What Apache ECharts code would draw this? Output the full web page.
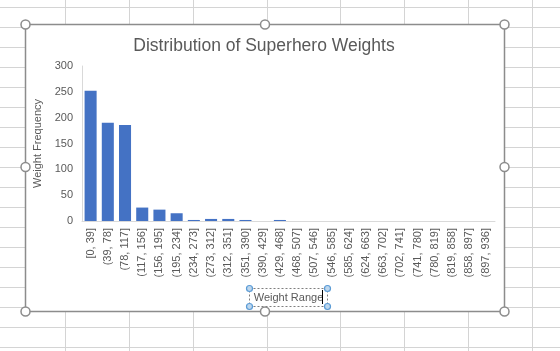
<!DOCTYPE html>
<html>
<head>
<meta charset="utf-8">
<script src="https://cdn.jsdelivr.net/npm/echarts@6/dist/echarts.min.js"></script>
<style>
  html, body { margin: 0; padding: 0; background: #fff; }
  #main { width: 560px; height: 351px; }
</style>
</head>
<body>
<div id="main"></div>
<script>
// weight bins of 39 lbs
var categories = ['[0, 39]', '(39, 78]', '(78, 117]', '(117, 156]', '(156, 195]', '(195, 234]',
  '(234, 273]', '(273, 312]', '(312, 351]', '(351, 390]', '(390, 429]', '(429, 468]',
  '(468, 507]', '(507, 546]', '(546, 585]', '(585, 624]', '(624, 663]', '(663, 702]',
  '(702, 741]', '(741, 780]', '(780, 819]', '(819, 858]', '(858, 897]', '(897, 936]'];
var frequency = [252, 190, 186, 26, 22, 15, 2, 4, 4, 2, 0, 2, 0, 0, 0, 0, 0, 0, 0, 0, 0, 0, 0, 0];
var yTicks = [0, 50, 100, 150, 200, 250, 300];

var textColor = '#595959';
var font = 'Liberation Sans';

// spreadsheet cells behind the chart
var sheetCols = [65, 129, 193, 267, 340, 404, 468, 532];
var graphics = [];
sheetCols.forEach(function (x) {
  graphics.push({ type: 'line', z: -20, silent: true,
    shape: { x1: x + 0.5, y1: 0, x2: x + 0.5, y2: 351 },
    style: { stroke: '#d4d4d4', lineWidth: 1 } });
});
for (var y = 7; y < 351; y += 20) {
  graphics.push({ type: 'line', z: -20, silent: true,
    shape: { x1: 0, y1: y + 0.5, x2: 560, y2: y + 0.5 },
    style: { stroke: '#d4d4d4', lineWidth: 1 } });
}
// chart frame
graphics.push({ type: 'rect', z: -10, silent: true,
  shape: { x: 25.5, y: 24.5, width: 479, height: 287 },
  style: { fill: '#fff', stroke: '#8c8c8c', lineWidth: 1.5 } });
// frame handles
[[25.5, 24.5], [265, 24.5], [504.5, 24.5], [25.5, 167], [504.5, 167],
 [25.5, 311.5], [265, 311.5], [504.5, 311.5]].forEach(function (p) {
  graphics.push({ type: 'circle', z: 50, silent: true,
    shape: { cx: p[0], cy: p[1], r: 4.5 },
    style: { fill: '#fff', stroke: '#8c8c8c', lineWidth: 1.5 } });
});
// selected axis-title box
graphics.push({ type: 'rect', z: 40, silent: true,
  shape: { x: 249.5, y: 288.5, width: 78, height: 18 },
  style: { fill: 'none', stroke: '#7f7f7f', lineWidth: 1, lineDash: [2, 2] } });
[[249.5, 288.5], [327.5, 288.5], [249.5, 306.5], [327.5, 306.5]].forEach(function (p) {
  graphics.push({ type: 'circle', z: 60, silent: true,
    shape: { cx: p[0], cy: p[1], r: 3 },
    style: { fill: '#bdd7ee', stroke: '#5b9bd5', lineWidth: 1.2 } });
});
graphics.push({ type: 'line', z: 60, silent: true,
  shape: { x1: 322.5, y1: 290, x2: 322.5, y2: 304 },
  style: { stroke: '#000', lineWidth: 1 } });

var chart = echarts.init(document.getElementById('main'));
chart.setOption({
  animation: false,
  textStyle: { fontFamily: font },
  title: {
    text: 'Distribution of Superhero Weights',
    left: 259, top: 32, textAlign: 'center',
    textStyle: { color: textColor, fontSize: 17.5, fontWeight: 'normal', fontFamily: font }
  },
  grid: { left: 82, right: 65, top: 66, bottom: 130 },
  xAxis: {
    type: 'category',
    data: categories,
    name: 'Weight Range',
    nameLocation: 'middle',
    nameGap: 71,
    nameTextStyle: { color: textColor, fontSize: 11, fontFamily: font, padding: [0, 0, 0, 0] },
    axisLine: { lineStyle: { color: '#d9d9d9', width: 1 } },
    axisTick: { show: false },
    axisLabel: { rotate: 90, interval: 0, color: textColor, fontSize: 11, margin: 7, fontFamily: font }
  },
  yAxis: {
    type: 'value',
    min: yTicks[0],
    max: yTicks[yTicks.length - 1],
    interval: 50,
    name: 'Weight Frequency',
    nameLocation: 'middle',
    nameGap: 39,
    nameTextStyle: { color: textColor, fontSize: 11, fontFamily: font },
    axisLine: { show: true, lineStyle: { color: '#d9d9d9', width: 1 } },
    axisTick: { show: false },
    splitLine: { show: false },
    axisLabel: { color: textColor, fontSize: 11, margin: 9, fontFamily: font }
  },
  series: [{
    type: 'bar',
    data: frequency,
    barCategoryGap: '30%',
    itemStyle: { color: '#4472c4' }
  }],
  graphic: graphics
});
</script>
</body>
</html>
